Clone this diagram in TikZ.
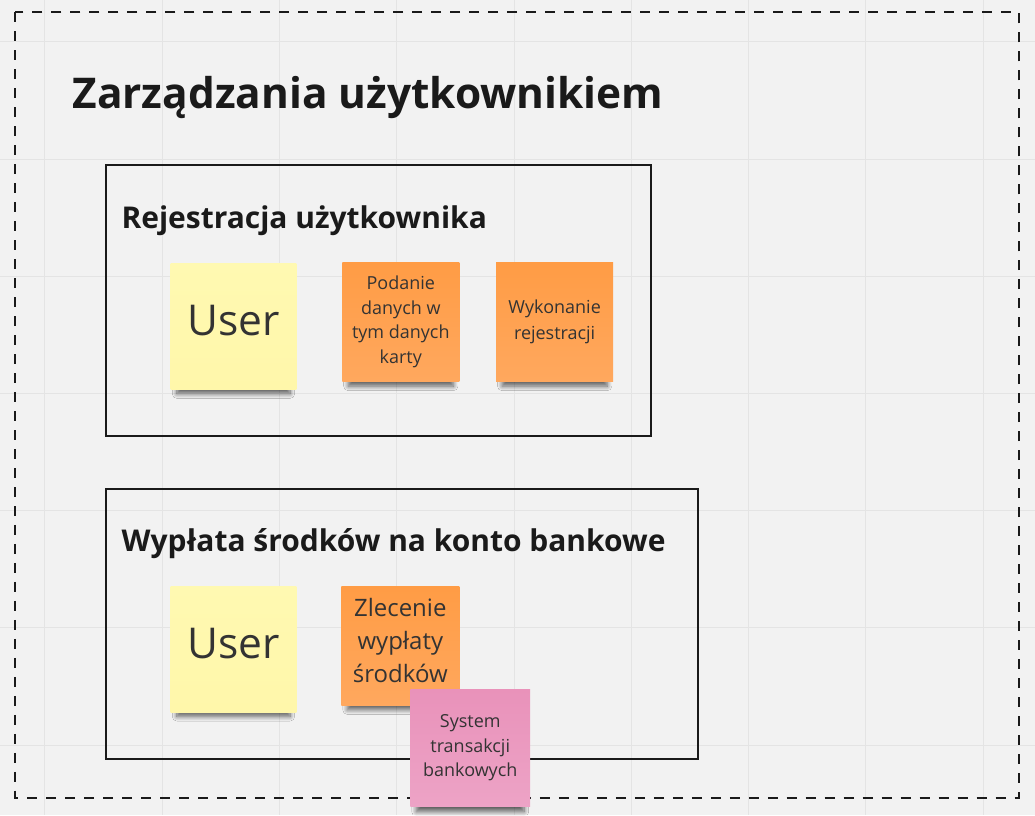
\documentclass[tikz,border=0pt]{standalone}
\usepackage{fontspec}
\setmainfont{Open Sans}
\usepackage{xcolor}
\usepackage{tikz}
\usetikzlibrary{positioning,shadows,shadows.blur}

\definecolor{boardbg}{HTML}{F2F2F2}
\definecolor{gridline}{HTML}{E4E4E4}
\definecolor{inkdark}{HTML}{1A1A1A}
\definecolor{stickytext}{HTML}{333333}
\definecolor{yellowtop}{HTML}{FFF9B1}
\definecolor{yellowbot}{HTML}{FFF7AA}
\definecolor{orangetop}{HTML}{FF9C45}
\definecolor{orangebot}{HTML}{FFA85E}
\definecolor{pinktop}{HTML}{E992BA}
\definecolor{pinkbot}{HTML}{EDA3C6}

\begin{document}
\begin{tikzpicture}[x=1pt,y=-1pt,
    frame/.style={draw=inkdark,line width=2pt,
        minimum width=#1,anchor=north west,inner sep=0pt},
    sticky/.style={anchor=north west,inner sep=0pt,
        align=center,text=stickytext,
        blur shadow={shadow xshift=0pt,shadow yshift=-12pt,
            shadow scale=0.9,shadow opacity=60,
            shadow blur radius=5pt,shadow blur steps=10}},
    yellowsticky/.style={sticky,top color=yellowtop,bottom color=yellowbot},
    orangesticky/.style={sticky,top color=orangetop,bottom color=orangebot},
    pinksticky/.style={sticky,top color=pinktop,bottom color=pinkbot},
    boxtitle/.style={anchor=base west,inner sep=0pt,text=inkdark,
        font=\fontsize{30}{36}\selectfont\bfseries}]

    % board
    \fill[boardbg] (0,0) rectangle (1035,815);
    \foreach \i in {0,...,8}
        \draw[gridline,line width=1pt] (44.5+117.4*\i,0) -- (44.5+117.4*\i,815);
    \foreach \j in {0,...,6}
        \draw[gridline,line width=1pt] (0,41.5+117.3*\j) -- (1035,41.5+117.3*\j);

    \draw[inkdark,line width=2pt,dash pattern=on 10pt off 9pt]
        (15,12) rectangle (1019,798);

    \node[anchor=base west,inner sep=0pt,text=inkdark,
        font=\fontsize{42.4}{50}\selectfont\bfseries]
        (title) at (72,108) {Zarządzania użytkownikiem};

    % rejestracja
    \node[frame=545pt,minimum height=271pt]
        (rejestracja) at (105,164) {};
    \node[boxtitle]
        (rejtitle) at (121,228) {Rejestracja użytkownika};

    \node[yellowsticky,
        minimum width=126pt,
        minimum height=126pt,
        text depth=12pt,
        font=\fontsize{42.5}{50}\selectfont]
        (user1) at (170,263) {User};

    \node[orangesticky,
        minimum width=117pt,
        minimum height=119pt,
        font=\fontsize{18}{24.7}\selectfont]
        (podanie) at (342,262) {Podanie\\danych w\\tym danych\\karty};

    \node[orangesticky,
        minimum width=117pt,
        minimum height=119pt,
        font=\fontsize{18}{26}\selectfont]
        (wykonanie) at (496,262) {Wykonanie\\rejestracji};

    % wyplata
    \node[frame=592pt,minimum height=270pt]
        (wyplata) at (105,488) {};
    \node[boxtitle]
        (wyptitle) at (121,552) {Wypłata środków na konto bankowe};

    \node[yellowsticky,
        minimum width=126pt,
        minimum height=126pt,
        text depth=12pt,
        font=\fontsize{42.5}{50}\selectfont]
        (user2) at (170,586) {User};

    \node[orangesticky,
        minimum width=118pt,
        minimum height=119pt,
        text depth=10pt,
        font=\fontsize{24}{33}\selectfont]
        (zlecenie) at (341,586) {Zlecenie\\wypłaty\\środków};

    \node[pinksticky,
        minimum width=120pt,
        minimum height=118pt,
        font=\fontsize{18}{24.5}\selectfont]
        (system) at (410,689) {System\\transakcji\\bankowych};

\end{tikzpicture}
\end{document}
